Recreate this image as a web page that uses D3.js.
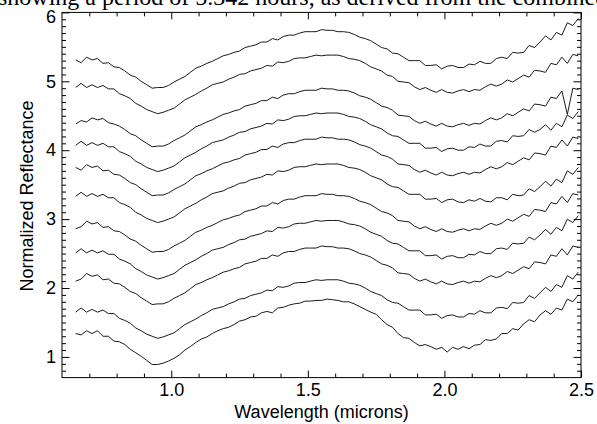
<!DOCTYPE html>
<html>
<head>
<meta charset="utf-8">
<script src="https://cdnjs.cloudflare.com/ajax/libs/d3/7.8.5/d3.min.js"></script>
<style>
body{margin:0;background:#fff;}
svg{display:block;}
</style>
</head>
<body>
<svg id="chart" width="597" height="424"></svg>
<script>
// wavelength grid shared by all spectra (microns)
var wavelength = [0.65,0.67,0.69,0.71,0.73,0.75,0.77,0.79,0.81,0.83,0.85,0.87,0.89,0.91,0.93,0.95,0.97,0.99,
	1.01,1.03,1.05,1.07,1.09,1.11,1.13,1.15,1.17,1.19,1.21,1.23,1.25,1.27,1.29,1.31,1.33,1.35,1.37,1.39,
	1.41,1.43,1.45,1.47,1.49,1.51,1.53,1.55,1.57,1.59,1.61,1.63,1.65,1.67,1.69,1.71,1.73,1.75,1.77,1.79,
	1.81,1.83,1.85,1.87,1.89,1.91,1.93,1.95,1.97,1.99,2.01,2.03,2.05,2.07,2.09,2.11,2.13,2.15,2.17,2.19,
	2.21,2.23,2.25,2.27,2.29,2.31,2.33,2.35,2.37,2.39,2.41,2.43,2.45,2.47,2.49];

// offset reflectance spectra, top to bottom
var spec1 = [5.31,5.27,5.35,5.31,5.33,5.26,5.27,5.21,5.20,5.15,5.09,5.06,5.00,4.95,4.90,4.91,4.91,4.94,
	4.99,5.03,5.07,5.13,5.19,5.22,5.26,5.29,5.33,5.37,5.39,5.42,5.44,5.49,5.51,5.53,5.57,5.57,5.62,5.60,
	5.65,5.67,5.67,5.70,5.72,5.72,5.72,5.75,5.74,5.74,5.72,5.72,5.71,5.68,5.64,5.62,5.59,5.54,5.49,5.47,
	5.41,5.40,5.35,5.30,5.30,5.30,5.23,5.23,5.24,5.18,5.22,5.23,5.20,5.20,5.25,5.24,5.29,5.26,5.26,5.33,
	5.35,5.33,5.42,5.41,5.42,5.52,5.49,5.57,5.66,5.60,5.71,5.67,5.85,5.81,5.91];
var spec2 = [4.91,4.97,4.91,4.95,4.91,4.94,4.89,4.89,4.82,4.79,4.75,4.68,4.64,4.59,4.56,4.53,4.55,4.58,
	4.61,4.67,4.73,4.77,4.81,4.86,4.90,4.95,4.97,4.99,5.03,5.06,5.10,5.11,5.15,5.17,5.19,5.23,5.22,5.28,
	5.27,5.29,5.33,5.34,5.34,5.36,5.38,5.37,5.38,5.38,5.38,5.36,5.33,5.32,5.30,5.26,5.21,5.18,5.15,5.09,
	5.07,5.00,4.99,4.98,4.92,4.88,4.91,4.87,4.84,4.88,4.84,4.83,4.86,4.88,4.85,4.88,4.87,4.92,4.96,4.93,
	4.96,5.02,4.99,5.04,5.09,5.06,5.16,5.15,5.13,5.26,5.24,5.35,5.26,5.39,5.37];
var spec3 = [4.38,4.43,4.41,4.47,4.44,4.46,4.40,4.38,4.35,4.30,4.24,4.21,4.15,4.10,4.05,4.06,4.06,4.09,
	4.14,4.18,4.22,4.28,4.34,4.37,4.41,4.44,4.48,4.52,4.54,4.57,4.59,4.64,4.66,4.68,4.72,4.72,4.77,4.75,
	4.80,4.82,4.82,4.85,4.87,4.87,4.87,4.90,4.89,4.89,4.87,4.87,4.86,4.83,4.79,4.77,4.74,4.69,4.64,4.62,
	4.58,4.51,4.50,4.49,4.43,4.39,4.42,4.38,4.35,4.39,4.35,4.34,4.37,4.39,4.36,4.39,4.38,4.43,4.47,4.44,
	4.47,4.53,4.50,4.55,4.60,4.57,4.67,4.66,4.64,4.77,4.75,4.86,4.52,4.90,4.88];
var spec4 = [4.07,4.13,4.07,4.11,4.07,4.10,4.05,4.05,3.98,3.95,3.91,3.84,3.80,3.75,3.72,3.69,3.71,3.74,
	3.77,3.83,3.89,3.93,3.97,4.02,4.06,4.11,4.13,4.15,4.19,4.22,4.26,4.27,4.31,4.33,4.35,4.39,4.38,4.44,
	4.43,4.45,4.49,4.50,4.50,4.52,4.54,4.53,4.54,4.54,4.54,4.52,4.49,4.48,4.46,4.42,4.37,4.34,4.31,4.25,
	4.21,4.20,4.15,4.10,4.10,4.10,4.03,4.03,4.04,3.98,4.02,4.03,4.00,4.00,4.05,4.04,4.09,4.06,4.06,4.13,
	4.14,4.12,4.21,4.20,4.21,4.30,4.26,4.30,4.37,4.29,4.39,4.34,4.51,4.46,4.56];
var spec5 = [3.75,3.71,3.79,3.75,3.77,3.70,3.71,3.65,3.64,3.59,3.53,3.50,3.44,3.39,3.34,3.35,3.35,3.38,
	3.43,3.47,3.51,3.57,3.63,3.66,3.70,3.73,3.77,3.81,3.83,3.86,3.88,3.93,3.95,3.97,4.01,4.01,4.06,4.04,
	4.09,4.11,4.11,4.14,4.16,4.16,4.16,4.19,4.18,4.18,4.16,4.16,4.15,4.12,4.08,4.06,4.03,3.98,3.93,3.91,
	3.87,3.80,3.79,3.78,3.72,3.68,3.71,3.67,3.64,3.68,3.64,3.63,3.66,3.68,3.65,3.68,3.67,3.72,3.76,3.73,
	3.76,3.82,3.79,3.84,3.89,3.86,3.96,3.95,3.93,4.06,4.04,4.15,4.06,4.19,4.17];
var spec6 = [3.33,3.39,3.33,3.37,3.33,3.36,3.31,3.31,3.24,3.21,3.17,3.10,3.06,3.01,2.98,2.95,2.97,3.00,
	3.03,3.09,3.15,3.19,3.23,3.28,3.32,3.37,3.39,3.41,3.45,3.48,3.52,3.53,3.57,3.59,3.61,3.65,3.64,3.70,
	3.69,3.71,3.75,3.76,3.76,3.78,3.80,3.79,3.80,3.80,3.80,3.78,3.75,3.74,3.72,3.68,3.63,3.60,3.57,3.51,
	3.47,3.46,3.41,3.36,3.36,3.36,3.29,3.29,3.30,3.24,3.28,3.29,3.25,3.24,3.28,3.26,3.30,3.26,3.25,3.31,
	3.31,3.28,3.36,3.34,3.35,3.44,3.40,3.47,3.55,3.48,3.58,3.53,3.70,3.65,3.75];
var spec7 = [2.86,2.89,2.97,2.93,2.95,2.88,2.89,2.83,2.82,2.77,2.71,2.68,2.62,2.57,2.52,2.53,2.53,2.56,
	2.61,2.65,2.69,2.75,2.81,2.84,2.88,2.91,2.95,2.99,3.01,3.04,3.06,3.11,3.13,3.15,3.19,3.19,3.24,3.22,
	3.27,3.29,3.29,3.32,3.34,3.34,3.34,3.37,3.36,3.36,3.34,3.34,3.33,3.30,3.26,3.24,3.21,3.16,3.11,3.09,
	3.05,2.98,2.97,2.96,2.90,2.86,2.89,2.85,2.82,2.86,2.82,2.81,2.84,2.86,2.83,2.86,2.85,2.90,2.94,2.91,
	2.94,3.00,2.97,3.02,3.07,3.04,3.14,3.13,3.11,3.24,3.22,3.33,3.24,3.37,3.35];
var spec8 = [2.51,2.57,2.51,2.55,2.51,2.54,2.49,2.49,2.42,2.39,2.35,2.28,2.24,2.19,2.16,2.13,2.15,2.18,
	2.21,2.27,2.33,2.37,2.41,2.46,2.50,2.55,2.57,2.59,2.63,2.66,2.70,2.71,2.75,2.77,2.79,2.83,2.82,2.88,
	2.87,2.89,2.93,2.94,2.94,2.96,2.98,2.97,2.98,2.98,2.98,2.96,2.93,2.92,2.90,2.86,2.81,2.78,2.75,2.69,
	2.65,2.64,2.59,2.54,2.54,2.54,2.47,2.47,2.48,2.42,2.46,2.47,2.44,2.44,2.49,2.48,2.53,2.50,2.50,2.57,
	2.58,2.56,2.65,2.64,2.65,2.74,2.70,2.77,2.85,2.78,2.88,2.83,3.00,2.95,3.05];
var spec9 = [2.10,2.13,2.21,2.17,2.19,2.12,2.13,2.07,2.06,2.01,1.95,1.92,1.86,1.81,1.76,1.77,1.77,1.80,
	1.85,1.89,1.93,1.99,2.05,2.08,2.12,2.15,2.19,2.23,2.25,2.28,2.30,2.35,2.37,2.39,2.43,2.43,2.48,2.46,
	2.51,2.53,2.53,2.56,2.58,2.58,2.58,2.61,2.60,2.60,2.58,2.58,2.57,2.54,2.50,2.48,2.45,2.40,2.35,2.33,
	2.29,2.22,2.21,2.20,2.14,2.10,2.13,2.09,2.06,2.10,2.06,2.05,2.08,2.10,2.07,2.10,2.09,2.14,2.18,2.15,
	2.18,2.24,2.21,2.26,2.31,2.28,2.38,2.37,2.35,2.48,2.46,2.57,2.48,2.61,2.59];
var spec10 = [1.65,1.71,1.65,1.69,1.65,1.68,1.63,1.63,1.56,1.53,1.49,1.42,1.38,1.33,1.30,1.27,1.29,1.32,
	1.35,1.41,1.47,1.51,1.55,1.60,1.64,1.69,1.71,1.73,1.77,1.80,1.84,1.85,1.89,1.91,1.93,1.97,1.96,2.02,
	2.01,2.03,2.07,2.08,2.08,2.10,2.12,2.11,2.12,2.12,2.12,2.10,2.07,2.06,2.04,2.00,1.95,1.92,1.89,1.83,
	1.79,1.78,1.73,1.68,1.68,1.68,1.61,1.61,1.62,1.56,1.60,1.61,1.58,1.58,1.63,1.62,1.67,1.64,1.64,1.71,
	1.72,1.70,1.79,1.78,1.79,1.89,1.85,1.93,2.01,1.95,2.05,2.01,2.18,2.13,2.23];
var spec11 = [1.34,1.32,1.38,1.34,1.38,1.30,1.30,1.23,1.22,1.18,1.11,1.06,1.01,0.95,0.89,0.89,0.91,0.94,
	0.98,1.03,1.10,1.15,1.21,1.26,1.29,1.34,1.38,1.41,1.43,1.47,1.52,1.54,1.58,1.59,1.64,1.66,1.64,1.71,
	1.72,1.75,1.77,1.78,1.81,1.81,1.82,1.82,1.84,1.83,1.82,1.80,1.80,1.77,1.73,1.69,1.65,1.62,1.54,1.47,
	1.43,1.34,1.28,1.27,1.21,1.16,1.18,1.15,1.11,1.14,1.07,1.14,1.11,1.15,1.12,1.17,1.18,1.25,1.24,1.26,
	1.34,1.34,1.41,1.39,1.48,1.54,1.51,1.61,1.67,1.62,1.71,1.68,1.84,1.80,1.90];

var spectra = [spec1,spec2,spec3,spec4,spec5,spec6,spec7,spec8,spec9,spec10,spec11];

var xMajor = [1.0,1.5,2.0,2.5];
var xMinor = [0.7,0.8,0.9,1.1,1.2,1.3,1.4,1.6,1.7,1.8,1.9,2.1,2.2,2.3,2.4];
var yMajor = [1,2,3,4,5,6];
var yMinor = [0.8,0.9,1.1,1.2,1.3,1.4,1.5,1.6,1.7,1.8,1.9,2.1,2.2,2.3,2.4,2.5,2.6,2.7,2.8,2.9,
	3.1,3.2,3.3,3.4,3.5,3.6,3.7,3.8,3.9,4.1,4.2,4.3,4.4,4.5,4.6,4.7,4.8,4.9,5.1,5.2,5.3,5.4,5.5,5.6,5.7,5.8,5.9];

var caption = "showing a period of 5.342 hours, as derived from the combined";

var svg = d3.select("#chart");
var plotL = 62, plotR = 581, plotT = 12.4, plotB = 377.6;

var x = d3.scaleLinear().domain([0.6,2.5]).range([plotL,plotR]);
var y = d3.scaleLinear().domain([0.7,6.0]).range([plotB,plotT]);

var font = "'Liberation Sans', Arial, Helvetica, sans-serif";

// clipped caption line from the page above the figure
svg.append("text")
	.attr("x",-2)
	.attr("y",5)
	.attr("font-family","'Liberation Serif','Times New Roman',serif")
	.attr("font-size",24)
	.attr("fill","#000")
	.text(caption);

var clip = svg.append("clipPath").attr("id","plotclip");
clip.append("rect").attr("x",plotL).attr("y",plotT).attr("width",plotR-plotL).attr("height",plotB-plotT);

var line = d3.line()
	.x(function(d){return x(d[0]);})
	.y(function(d){return y(d[1]);});

svg.append("g").attr("clip-path","url(#plotclip)")
	.selectAll("path")
	.data(spectra)
	.enter()
	.append("path")
	.attr("d",function(s){return line(s.map(function(v,i){return [wavelength[i],v];}));})
	.attr("fill","none")
	.attr("stroke","#000")
	.attr("stroke-width",0.9);

function tickAxis(axis,vals,size,tx,ty,labels){
	var g = svg.append("g")
		.attr("transform","translate("+tx+","+ty+")")
		.call(axis.tickValues(vals).tickSize(size).tickPadding(labels?labels:3));
	g.select(".domain").remove();
	g.selectAll("line").attr("stroke","#000").attr("stroke-width",1);
	if(!labels){g.selectAll("text").remove();}
	else{g.selectAll("text").attr("font-family",font).attr("font-size",18).attr("fill","#000");}
	return g;
}

tickAxis(d3.axisBottom(x).tickFormat(d3.format(".1f")),xMajor,-7,0,plotB,6);
tickAxis(d3.axisBottom(x),xMinor,-4,0,plotB,0);
tickAxis(d3.axisTop(x),xMajor,-7,0,plotT,0);
tickAxis(d3.axisTop(x),xMinor,-4,0,plotT,0);
var yAx = tickAxis(d3.axisLeft(y).tickFormat(d3.format("d")),yMajor,-7.5,plotL,0,6);
// top label sits a little below the frame corner
yAx.selectAll("text").filter(function(d){return d===6;}).attr("y",4);
tickAxis(d3.axisLeft(y),yMinor,-4,plotL,0,0);
tickAxis(d3.axisRight(y),yMajor,-7.5,plotR,0,0);
tickAxis(d3.axisRight(y),yMinor,-4,plotR,0,0);

svg.append("rect")
	.attr("x",plotL).attr("y",plotT)
	.attr("width",plotR-plotL).attr("height",plotB-plotT)
	.attr("fill","none").attr("stroke","#000").attr("stroke-width",1);

svg.append("text")
	.attr("x",(plotL+plotR)/2)
	.attr("y",418)
	.attr("text-anchor","middle")
	.attr("font-family",font)
	.attr("font-size",18)
	.text("Wavelength (microns)");

svg.append("text")
	.attr("transform","translate(33,196) rotate(-90)")
	.attr("text-anchor","middle")
	.attr("font-family",font)
	.attr("font-size",18)
	.text("Normalized Reflectance");
</script>
</body>
</html>
